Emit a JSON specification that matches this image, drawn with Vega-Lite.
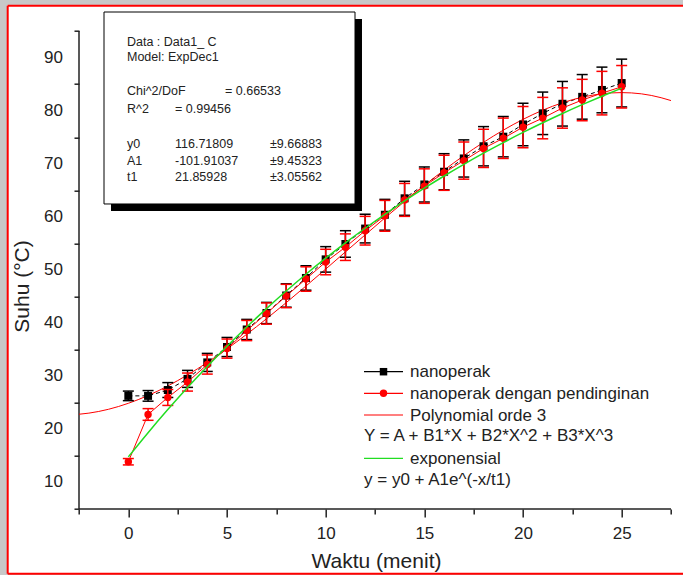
{
  "$schema": "https://vega.github.io/schema/vega-lite/v6.json",
  "width": 675.3,
  "height": 568,
  "autosize": {"type": "none"},
  "padding": {"left": 7.7, "top": 5.7, "right": 0, "bottom": 1.3},
  "background": "#c8c8c8",
  "view": {"fill": "white", "stroke": null},
  "config": {"font": "Liberation Sans", "text": {"font": "Liberation Sans", "color": "#222", "align": "left", "baseline": "top"}},
  "data": {"values": [{"note": "annotation"}]},
  "datasets": {
    "black": [
      {"x": 0, "y": 26.3, "lo": 25.4, "hi": 27.2}, {"x": 1, "y": 26.3, "lo": 25.3, "hi": 27.3},
      {"x": 2, "y": 27.4, "lo": 26.0, "hi": 28.8}, {"x": 3, "y": 29.5, "lo": 27.9, "hi": 31.1},
      {"x": 4, "y": 32.6, "lo": 30.9, "hi": 34.3}, {"x": 5, "y": 35.5, "lo": 33.7, "hi": 37.3},
      {"x": 6, "y": 38.8, "lo": 36.9, "hi": 40.7}, {"x": 7, "y": 41.9, "lo": 39.9, "hi": 43.9},
      {"x": 8, "y": 45.2, "lo": 43.0, "hi": 47.4}, {"x": 9, "y": 48.5, "lo": 46.2, "hi": 50.8},
      {"x": 10, "y": 52.0, "lo": 49.6, "hi": 54.4}, {"x": 11, "y": 54.9, "lo": 52.4, "hi": 57.4},
      {"x": 12, "y": 57.8, "lo": 55.1, "hi": 60.5}, {"x": 13, "y": 60.4, "lo": 57.5, "hi": 63.3},
      {"x": 14, "y": 63.5, "lo": 60.3, "hi": 66.7}, {"x": 15, "y": 66.1, "lo": 62.8, "hi": 69.4},
      {"x": 16, "y": 68.5, "lo": 65.1, "hi": 71.9}, {"x": 17, "y": 71.0, "lo": 67.5, "hi": 74.5},
      {"x": 18, "y": 73.3, "lo": 69.6, "hi": 77.0}, {"x": 19, "y": 75.1, "lo": 71.3, "hi": 78.9},
      {"x": 20, "y": 77.4, "lo": 73.4, "hi": 81.4}, {"x": 21, "y": 79.5, "lo": 75.5, "hi": 83.5},
      {"x": 22, "y": 81.3, "lo": 77.1, "hi": 85.5}, {"x": 23, "y": 82.6, "lo": 78.4, "hi": 86.8},
      {"x": 24, "y": 83.9, "lo": 79.6, "hi": 88.2}, {"x": 25, "y": 85.2, "lo": 80.7, "hi": 89.7}
    ],
    "red": [
      {"x": 0, "y": 13.9, "lo": 13.3, "hi": 14.5}, {"x": 1, "y": 22.8, "lo": 21.7, "hi": 23.9},
      {"x": 2, "y": 26.0, "lo": 24.5, "hi": 27.5}, {"x": 3, "y": 28.9, "lo": 27.2, "hi": 30.6},
      {"x": 4, "y": 32.2, "lo": 30.4, "hi": 34.0}, {"x": 5, "y": 35.2, "lo": 33.4, "hi": 37.0},
      {"x": 6, "y": 38.6, "lo": 36.7, "hi": 40.5}, {"x": 7, "y": 41.8, "lo": 39.8, "hi": 43.8},
      {"x": 8, "y": 45.1, "lo": 42.9, "hi": 47.3}, {"x": 9, "y": 48.3, "lo": 46.0, "hi": 50.6},
      {"x": 10, "y": 51.5, "lo": 49.1, "hi": 53.9}, {"x": 11, "y": 54.3, "lo": 51.8, "hi": 56.8},
      {"x": 12, "y": 57.4, "lo": 54.7, "hi": 60.1}, {"x": 13, "y": 60.2, "lo": 57.3, "hi": 63.1},
      {"x": 14, "y": 63.2, "lo": 60.1, "hi": 66.3}, {"x": 15, "y": 65.8, "lo": 62.55, "hi": 69.05},
      {"x": 16, "y": 68.3, "lo": 65.0, "hi": 71.6}, {"x": 17, "y": 70.6, "lo": 67.1, "hi": 74.1},
      {"x": 18, "y": 72.9, "lo": 69.3, "hi": 76.5}, {"x": 19, "y": 74.8, "lo": 71.0, "hi": 78.6},
      {"x": 20, "y": 76.9, "lo": 73.0, "hi": 80.8}, {"x": 21, "y": 78.6, "lo": 74.7, "hi": 82.5},
      {"x": 22, "y": 80.5, "lo": 76.7, "hi": 84.3}, {"x": 23, "y": 82.0, "lo": 78.1, "hi": 85.9},
      {"x": 24, "y": 83.3, "lo": 79.2, "hi": 87.4}, {"x": 25, "y": 84.5, "lo": 80.5, "hi": 88.5}
    ],
    "poly": [
      {"x": -2.5, "y": 22.84}, {"x": -2, "y": 23.05}, {"x": -1, "y": 23.78}, {"x": 0, "y": 24.9},
      {"x": 1, "y": 26.37}, {"x": 2, "y": 28.16}, {"x": 3, "y": 30.25}, {"x": 4, "y": 32.58},
      {"x": 5, "y": 35.14}, {"x": 6, "y": 37.9}, {"x": 7, "y": 40.81}, {"x": 8, "y": 43.85},
      {"x": 9, "y": 46.98}, {"x": 10, "y": 50.17}, {"x": 11, "y": 53.4}, {"x": 12, "y": 56.61},
      {"x": 13, "y": 59.8}, {"x": 14, "y": 62.91}, {"x": 15, "y": 65.93}, {"x": 16, "y": 68.81},
      {"x": 17, "y": 71.53}, {"x": 18, "y": 74.04}, {"x": 19, "y": 76.33}, {"x": 20, "y": 78.36},
      {"x": 21, "y": 80.09}, {"x": 22, "y": 81.49}, {"x": 23, "y": 82.53}, {"x": 24, "y": 83.18},
      {"x": 25, "y": 83.4}, {"x": 26, "y": 83.17}, {"x": 27, "y": 82.44}, {"x": 27.5, "y": 81.9}
    ],
    "expo": [
      {"x": 0, "y": 14.81}, {"x": 1, "y": 19.37}, {"x": 2, "y": 23.72}, {"x": 3, "y": 27.88},
      {"x": 4, "y": 31.85}, {"x": 5, "y": 35.65}, {"x": 6, "y": 39.27}, {"x": 7, "y": 42.73},
      {"x": 8, "y": 46.04}, {"x": 9, "y": 49.2}, {"x": 10, "y": 52.22}, {"x": 11, "y": 55.11},
      {"x": 12, "y": 57.86}, {"x": 13, "y": 60.49}, {"x": 14, "y": 63.01}, {"x": 15, "y": 65.41},
      {"x": 16, "y": 67.7}, {"x": 17, "y": 69.89}, {"x": 18, "y": 71.99}, {"x": 19, "y": 73.99},
      {"x": 20, "y": 75.9}, {"x": 21, "y": 77.72}, {"x": 22, "y": 79.47}, {"x": 23, "y": 81.13},
      {"x": 24, "y": 82.72}, {"x": 25, "y": 84.24}
    ],
    "ylabels": [
      {"v": 10}, {"v": 20}, {"v": 30}, {"v": 40}, {"v": 50}, {"v": 60}, {"v": 70}, {"v": 80}, {"v": 90}
    ]
  },
  "layer": [
    {
      "data": {"name": "black"},
      "mark": {"type": "line", "color": "#000", "strokeWidth": 1, "strokeDash": [4, 3]},
      "encoding": {
        "x": {
          "field": "x", "type": "quantitative",
          "scale": {"domain": [-6.1132, 28.1082], "nice": false, "zero": false},
          "axis": {
            "values": [-2.5, 0, 2.5, 5, 7.5, 10, 12.5, 15, 17.5, 20, 22.5, 25, 27.5],
            "format": "d", "offset": -64.7, "domain": false, "grid": false,
            "tickSize": 8,
            "tickDash": {"condition": {"test": "datum.value % 5 !== 0", "value": [5, 20]}, "value": [20, 0]},
            "tickColor": "#222", "tickWidth": 1.5,
            "labelExpr": "datum.value % 5 === 0 ? datum.label : ''",
            "labelFontSize": 17, "labelColor": "#222", "labelPadding": 8,
            "labelFlush": false, "labelOverlap": false,
            "title": "Waktu (menit)", "titleFontSize": 21, "titleFontWeight": "normal", "titleColor": "#222",
            "titleX": 368.3, "titleY": 52, "titleBaseline": "middle", "titleAlign": "center"
          }
        },
        "y": {
          "field": "y", "type": "quantitative",
          "scale": {"domain": [-7.1822, 99.7636], "nice": false, "zero": false},
          "axis": {
            "values": [5, 10, 15, 20, 25, 30, 35, 40, 45, 50, 55, 60, 65, 70, 75, 80, 85, 90, 95],
            "format": "d", "offset": -71.3, "domain": false, "grid": false, "labels": false,
            "tickSize": 9,
            "tickDash": {"condition": {"test": "datum.value % 10 !== 0", "value": [5, 20]}, "value": [20, 0]},
            "tickColor": "#222", "tickWidth": 1.5,
            "title": "Suhu (°C)", "titleFontSize": 21, "titleFontWeight": "normal", "titleColor": "#222",
            "titleX": -56.5, "titleY": 280.3, "titleBaseline": "middle", "titleAlign": "center", "titleAngle": 270
          }
        }
      }
    },
    {
      "data": {"name": "ylabels"},
      "mark": {"type": "text", "align": "right", "baseline": "middle", "dx": -16, "fontSize": 17, "color": "#222"},
      "encoding": {
        "x": {"datum": -2.5, "type": "quantitative"},
        "y": {"field": "v", "type": "quantitative"},
        "text": {"field": "v", "type": "quantitative", "format": "d"}
      }
    },
    {
      "mark": {"type": "rule", "color": "#ff0000", "strokeWidth": 2},
      "encoding": {
        "x": {"datum": -6.1132, "type": "quantitative"},
        "y": {"datum": -7.1822, "type": "quantitative"},
        "y2": {"datum": 99.7636}
      }
    },
    {
      "mark": {"type": "rule", "color": "#ff0000", "strokeWidth": 2},
      "encoding": {
        "y": {"datum": 99.7636, "type": "quantitative"},
        "x": {"datum": -6.1132, "type": "quantitative"},
        "x2": {"datum": 28.1082}
      }
    },
    {
      "mark": {"type": "rule", "color": "#ff0000", "strokeWidth": 2},
      "encoding": {
        "y": {"datum": -7.1822, "type": "quantitative"},
        "x": {"datum": -6.1132, "type": "quantitative"},
        "x2": {"datum": 28.1082}
      }
    },
    {
      "mark": {"type": "rule", "color": "#222", "strokeWidth": 1.5},
      "encoding": {
        "x": {"datum": -2.5, "type": "quantitative"},
        "y": {"datum": 5, "type": "quantitative"},
        "y2": {"datum": 95}
      }
    },
    {
      "mark": {"type": "rule", "color": "#222", "strokeWidth": 1.5},
      "encoding": {
        "y": {"datum": 5, "type": "quantitative"},
        "x": {"datum": -2.5, "type": "quantitative"},
        "x2": {"datum": 27.5}
      }
    },
    {
      "mark": {"type": "rect", "color": "#000"},
      "encoding": {
        "x": {"datum": -0.878, "type": "quantitative"},
        "x2": {"datum": 11.841},
        "y": {"datum": 97.259, "type": "quantitative"},
        "y2": {"datum": 61.109}
      }
    },
    {
      "mark": {"type": "rect", "fill": "#ffffff", "stroke": "#000", "strokeWidth": 1},
      "encoding": {
        "x": {"datum": -1.233, "type": "quantitative"},
        "x2": {"datum": 11.487},
        "y": {"datum": 98.577, "type": "quantitative"},
        "y2": {"datum": 62.43}
      }
    },
    {
      "mark": {"type": "text", "fontSize": 12.5, "lineHeight": 15.2, "text": ["Data : Data1_ C", "Model: ExpDec1"]},
      "encoding": {"x": {"datum": -0.068, "type": "quantitative"}, "y": {"datum": 94.02, "type": "quantitative"}}
    },
    {
      "mark": {"type": "text", "fontSize": 12.5, "lineHeight": 18, "text": ["Chi^2/DoF", "R^2"]},
      "encoding": {"x": {"datum": -0.068, "type": "quantitative"}, "y": {"datum": 84.74, "type": "quantitative"}}
    },
    {
      "mark": {"type": "text", "fontSize": 12.5, "text": "=  0.66533"},
      "encoding": {"x": {"datum": 4.899, "type": "quantitative"}, "y": {"datum": 84.74, "type": "quantitative"}}
    },
    {
      "mark": {"type": "text", "fontSize": 12.5, "text": "=  0.99456"},
      "encoding": {"x": {"datum": 2.365, "type": "quantitative"}, "y": {"datum": 81.35, "type": "quantitative"}}
    },
    {
      "mark": {"type": "text", "fontSize": 12.5, "lineHeight": 16.3, "text": ["y0", "A1", "t1"]},
      "encoding": {"x": {"datum": -0.068, "type": "quantitative"}, "y": {"datum": 74.76, "type": "quantitative"}}
    },
    {
      "mark": {"type": "text", "fontSize": 12.5, "lineHeight": 16.3, "text": ["116.71809", "-101.91037", "21.85928"]},
      "encoding": {"x": {"datum": 2.365, "type": "quantitative"}, "y": {"datum": 74.76, "type": "quantitative"}}
    },
    {
      "mark": {"type": "text", "fontSize": 12.5, "lineHeight": 16.3, "text": ["±9.66883", "±9.45323", "±3.05562"]},
      "encoding": {"x": {"datum": 7.179, "type": "quantitative"}, "y": {"datum": 74.76, "type": "quantitative"}}
    },
    {
      "data": {"name": "poly"},
      "mark": {"type": "line", "color": "#ff0000", "strokeWidth": 1, "interpolate": "monotone"},
      "encoding": {
        "x": {"field": "x", "type": "quantitative"},
        "y": {"field": "y", "type": "quantitative"}
      }
    },
    {
      "data": {"name": "black"},
      "mark": {"type": "rule", "color": "#000", "strokeWidth": 1.5},
      "encoding": {
        "x": {"field": "x", "type": "quantitative"},
        "y": {"field": "lo", "type": "quantitative"},
        "y2": {"field": "hi"}
      }
    },
    {
      "data": {"name": "black"},
      "mark": {"type": "tick", "orient": "horizontal", "color": "#000", "size": 11, "thickness": 1.5, "opacity": 1},
      "encoding": {
        "x": {"field": "x", "type": "quantitative"},
        "y": {"field": "lo", "type": "quantitative"}
      }
    },
    {
      "data": {"name": "black"},
      "mark": {"type": "tick", "orient": "horizontal", "color": "#000", "size": 11, "thickness": 1.5, "opacity": 1},
      "encoding": {
        "x": {"field": "x", "type": "quantitative"},
        "y": {"field": "hi", "type": "quantitative"}
      }
    },
    {
      "data": {"name": "black"},
      "mark": {"type": "point", "shape": "square", "filled": true, "color": "#000", "size": 64, "opacity": 1},
      "encoding": {
        "x": {"field": "x", "type": "quantitative"},
        "y": {"field": "y", "type": "quantitative"}
      }
    },
    {
      "data": {"name": "red"},
      "mark": {"type": "line", "color": "#ff0000", "strokeWidth": 1},
      "encoding": {
        "x": {"field": "x", "type": "quantitative"},
        "y": {"field": "y", "type": "quantitative"}
      }
    },
    {
      "data": {"name": "red"},
      "mark": {"type": "rule", "color": "#ff0000", "strokeWidth": 1.5},
      "encoding": {
        "x": {"field": "x", "type": "quantitative"},
        "y": {"field": "lo", "type": "quantitative"},
        "y2": {"field": "hi"}
      }
    },
    {
      "data": {"name": "red"},
      "mark": {"type": "tick", "orient": "horizontal", "color": "#ff0000", "size": 11, "thickness": 1.5, "opacity": 1},
      "encoding": {
        "x": {"field": "x", "type": "quantitative"},
        "y": {"field": "lo", "type": "quantitative"}
      }
    },
    {
      "data": {"name": "red"},
      "mark": {"type": "tick", "orient": "horizontal", "color": "#ff0000", "size": 11, "thickness": 1.5, "opacity": 1},
      "encoding": {
        "x": {"field": "x", "type": "quantitative"},
        "y": {"field": "hi", "type": "quantitative"}
      }
    },
    {
      "data": {"name": "red"},
      "mark": {"type": "point", "shape": "circle", "filled": true, "color": "#ff0000", "size": 55, "opacity": 1},
      "encoding": {
        "x": {"field": "x", "type": "quantitative"},
        "y": {"field": "y", "type": "quantitative"}
      }
    },
    {
      "data": {"name": "expo"},
      "mark": {"type": "line", "color": "#22dd22", "strokeWidth": 1.5, "interpolate": "monotone"},
      "encoding": {
        "x": {"field": "x", "type": "quantitative"},
        "y": {"field": "y", "type": "quantitative"}
      }
    },
    {
      "mark": {"type": "rule", "color": "#000", "strokeWidth": 1.2},
      "encoding": {
        "x": {"datum": 11.943, "type": "quantitative"},
        "x2": {"datum": 13.919},
        "y": {"datum": 30.85, "type": "quantitative"}
      }
    },
    {
      "mark": {"type": "point", "shape": "square", "filled": true, "color": "#000", "size": 56, "opacity": 1},
      "encoding": {
        "x": {"datum": 12.931, "type": "quantitative"},
        "y": {"datum": 30.85, "type": "quantitative"}
      }
    },
    {
      "mark": {"type": "rule", "color": "#ff0000", "strokeWidth": 1.2},
      "encoding": {
        "x": {"datum": 11.943, "type": "quantitative"},
        "x2": {"datum": 13.919},
        "y": {"datum": 26.78, "type": "quantitative"}
      }
    },
    {
      "mark": {"type": "point", "shape": "circle", "filled": true, "color": "#ff0000", "size": 55, "opacity": 1},
      "encoding": {
        "x": {"datum": 12.931, "type": "quantitative"},
        "y": {"datum": 26.78, "type": "quantitative"}
      }
    },
    {
      "mark": {"type": "rule", "color": "#ff0000", "strokeWidth": 1.2},
      "encoding": {
        "x": {"datum": 11.943, "type": "quantitative"},
        "x2": {"datum": 13.919},
        "y": {"datum": 22.7, "type": "quantitative"}
      }
    },
    {
      "mark": {"type": "rule", "color": "#22dd22", "strokeWidth": 1.2},
      "encoding": {
        "x": {"datum": 11.943, "type": "quantitative"},
        "x2": {"datum": 13.919},
        "y": {"datum": 14.55, "type": "quantitative"}
      }
    },
    {
      "mark": {"type": "text", "fontSize": 17, "lineHeight": 21.65, "text": ["nanoperak", "nanoperak dengan pendinginan", "Polynomial orde 3"]},
      "encoding": {"x": {"datum": 14.274, "type": "quantitative"}, "y": {"datum": 32.26, "type": "quantitative"}}
    },
    {
      "mark": {"type": "text", "fontSize": 17, "text": "Y = A + B1*X + B2*X^2 + B3*X^3"},
      "encoding": {"x": {"datum": 11.943, "type": "quantitative"}, "y": {"datum": 20.16, "type": "quantitative"}}
    },
    {
      "mark": {"type": "text", "fontSize": 17, "text": "exponensial"},
      "encoding": {"x": {"datum": 14.274, "type": "quantitative"}, "y": {"datum": 15.96, "type": "quantitative"}}
    },
    {
      "mark": {"type": "text", "fontSize": 17, "text": "y = y0 + A1e^(-x/t1)"},
      "encoding": {"x": {"datum": 11.943, "type": "quantitative"}, "y": {"datum": 12.0, "type": "quantitative"}}
    }
  ]
}
